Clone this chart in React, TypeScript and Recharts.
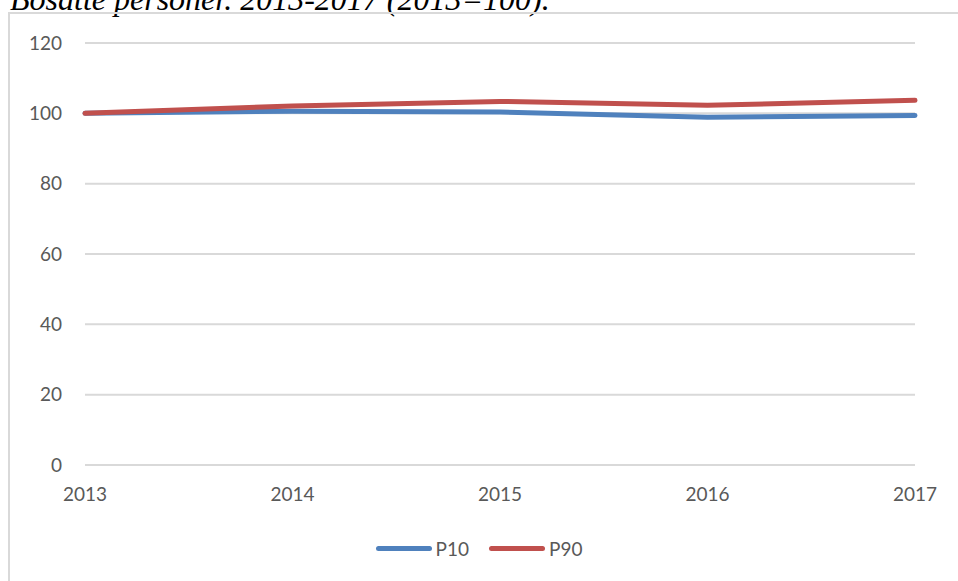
import { LineChart, Line, XAxis, YAxis, CartesianGrid } from 'recharts'

const years = ['2013', '2014', '2015', '2016', '2017']
const p10 = [100, 100.6, 100.4, 98.9, 99.4]
const p90 = [100, 102.1, 103.4, 102.3, 103.7]
const yTicks = [0, 20, 40, 60, 80, 100, 120]

const series = [
    { key: 'P10', color: '#4f81bd' },
    { key: 'P90', color: '#c0504d' },
]

const data = years.map((year, i) => ({ year, P10: p10[i], P90: p90[i] }))

const font = 'Lato, "Open Sans", sans-serif'

export default function App() {
    return (
        <div style={{ position: 'fixed', left: 0, top: 0, width: 958, height: 581, overflow: 'hidden', background: '#fff' }}>
            <div style={{
                position: 'absolute', left: 10, top: -19, whiteSpace: 'nowrap', lineHeight: '36px',
                fontFamily: '"Liberation Serif", "Times New Roman", serif', fontStyle: 'italic', fontSize: 32, color: '#000'
            }}>
                Bosatte personer. 2013-2017 (2013=100).
            </div>
            <div style={{ position: 'absolute', left: 8, top: 12, width: 960, height: 600, border: '2px solid #d9d9d9', boxSizing: 'border-box' }} />
            <div style={{ position: 'absolute', left: 0, top: 0 }}>
                <LineChart width={958} height={581} data={data} margin={{ top: 43, right: 43, left: 0, bottom: 86 }}>
                    <CartesianGrid stroke="#d9d9d9" strokeWidth={2} vertical={false} />
                    <XAxis dataKey="year" axisLine={false} tickLine={false} tickSize={0} tickMargin={23} height={30}
                        tick={{ fontSize: 19, fill: '#595959', fontFamily: font }} interval={0} />
                    <YAxis domain={[0, 120]} ticks={yTicks} width={85} axisLine={false} tickLine={false} tickSize={0} tickMargin={23}
                        tick={{ fontSize: 19, fill: '#595959', fontFamily: font }} />
                    {series.map((s) => (
                        <Line key={s.key} dataKey={s.key} stroke={s.color} strokeWidth={5} dot={false}
                            isAnimationActive={false} strokeLinecap="round" strokeLinejoin="round" />
                    ))}
                </LineChart>
            </div>
            <div style={{ position: 'absolute', left: 0, width: 958, top: 537, display: 'flex', justifyContent: 'center', gap: 20, fontFamily: font, fontSize: 19, color: '#595959' }}>
                {series.map((s) => (
                    <div key={s.key} style={{ display: 'flex', alignItems: 'center', gap: 4 }}>
                        <div style={{ width: 56, height: 5, borderRadius: 3, background: s.color }} />
                        <span>{s.key}</span>
                    </div>
                ))}
            </div>
        </div>
    )
}
